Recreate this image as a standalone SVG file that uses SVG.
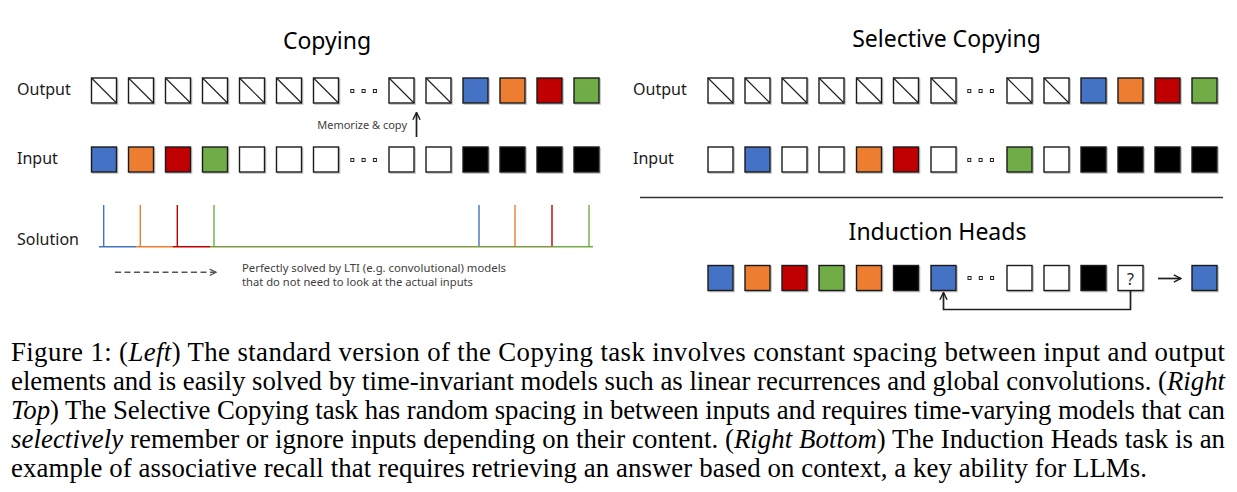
<svg xmlns="http://www.w3.org/2000/svg" xmlns:xlink="http://www.w3.org/1999/xlink" width="1237" height="492" viewBox="0 0 1237 492">
<style>
.sh{fill:none;stroke:#c4c4c4;stroke-width:1.3}
.box{stroke:#1a1a1a;stroke-width:1.4}
.diag{stroke:#1a1a1a;stroke-width:1.1}
.dot{fill:#fff;stroke:#222;stroke-width:1}
.lbl{font-family:"Noto Sans","Open Sans",sans-serif;font-size:16px;fill:#1a1a1a}
.ttl{font-family:"Noto Sans","Open Sans",sans-serif;font-size:23px;fill:#000;text-anchor:middle}
.small{font-family:"Noto Sans","Open Sans",sans-serif;font-size:10.5px;fill:#404040}
.cap{font-family:"Liberation Serif","Times New Roman",serif;font-size:26.8px;fill:#000}
.it{font-style:italic}
.conn{fill:none;stroke:#1f1f1f;stroke-width:1.7}
.sol{fill:none;stroke-width:1.4}
</style>
<defs>
<marker id="ah" viewBox="0 0 10 10" refX="9" refY="5" markerWidth="9" markerHeight="9" markerUnits="userSpaceOnUse" orient="auto"><path d="M1,1 L9,5 L1,9" fill="none" stroke="#1f1f1f" stroke-width="1.6"/></marker>
<marker id="ahg" viewBox="0 0 10 10" refX="9" refY="5" markerWidth="8" markerHeight="8" markerUnits="userSpaceOnUse" orient="auto"><path d="M1,1 L9,5 L1,9" fill="none" stroke="#555" stroke-width="1.6"/></marker>
<g id="s-hatch"><rect x="1.2" y="1.2" width="25" height="25" class="sh"/><rect width="25" height="25" class="box" fill="#fff"/><line x1="0" y1="0" x2="25" y2="25" class="diag"/></g>
<g id="s-w"><rect x="1.2" y="1.2" width="25" height="25" class="sh"/><rect width="25" height="25" class="box" fill="#fff"/></g>
<g id="s-b"><rect x="1.2" y="1.2" width="25" height="25" class="sh"/><rect width="25" height="25" class="box" fill="#4472C4"/></g>
<g id="s-o"><rect x="1.2" y="1.2" width="25" height="25" class="sh"/><rect width="25" height="25" class="box" fill="#ED7D31"/></g>
<g id="s-r"><rect x="1.2" y="1.2" width="25" height="25" class="sh"/><rect width="25" height="25" class="box" fill="#C00000"/></g>
<g id="s-g"><rect x="1.2" y="1.2" width="25" height="25" class="sh"/><rect width="25" height="25" class="box" fill="#70AD47"/></g>
<g id="s-k"><rect x="1.2" y="1.2" width="25" height="25" class="sh"/><rect width="25" height="25" class="box" fill="#000"/></g>
<g id="s-dots"><rect x="0" y="0" width="3" height="3" class="dot"/><rect x="11.3" y="0" width="3" height="3" class="dot"/><rect x="22.6" y="0" width="3" height="3" class="dot"/></g>
</defs>
<rect width="1237" height="492" fill="#fff"/>

<!-- Titles and labels -->
<text class="ttl" x="327" y="49">Copying</text>
<text class="ttl" x="946.5" y="47">Selective Copying</text>
<text class="ttl" x="937.5" y="240">Induction Heads</text>
<text class="lbl" x="17" y="95">Output</text>
<text class="lbl" x="17" y="164">Input</text>
<text class="lbl" x="17" y="245">Solution</text>
<text class="lbl" x="633" y="95">Output</text>
<text class="lbl" x="633" y="164">Input</text>

<!-- Copying: output row -->
<g id="copy-out">
<g id="co1"><use xlink:href="#s-hatch" x="91.5" y="78"/></g>
<g id="co2"><use xlink:href="#s-hatch" x="128.5" y="78"/></g>
<g id="co3"><use xlink:href="#s-hatch" x="165.5" y="78"/></g>
<g id="co4"><use xlink:href="#s-hatch" x="202.5" y="78"/></g>
<g id="co5"><use xlink:href="#s-hatch" x="239.5" y="78"/></g>
<g id="co6"><use xlink:href="#s-hatch" x="276.5" y="78"/></g>
<g id="co7"><use xlink:href="#s-hatch" x="313.5" y="78"/></g>
<g id="co-dots"><use xlink:href="#s-dots" x="350.8" y="89.5"/></g>
<g id="co8"><use xlink:href="#s-hatch" x="389" y="78"/></g>
<g id="co9"><use xlink:href="#s-hatch" x="426" y="78"/></g>
<g id="co10"><use xlink:href="#s-b" x="463" y="78"/></g>
<g id="co11"><use xlink:href="#s-o" x="500" y="78"/></g>
<g id="co12"><use xlink:href="#s-r" x="537" y="78"/></g>
<g id="co13"><use xlink:href="#s-g" x="574" y="78"/></g>
</g>
<!-- Copying: input row -->
<g id="copy-in">
<g id="ci1"><use xlink:href="#s-b" x="91.5" y="147"/></g>
<g id="ci2"><use xlink:href="#s-o" x="128.5" y="147"/></g>
<g id="ci3"><use xlink:href="#s-r" x="165.5" y="147"/></g>
<g id="ci4"><use xlink:href="#s-g" x="202.5" y="147"/></g>
<g id="ci5"><use xlink:href="#s-w" x="239.5" y="147"/></g>
<g id="ci6"><use xlink:href="#s-w" x="276.5" y="147"/></g>
<g id="ci7"><use xlink:href="#s-w" x="313.5" y="147"/></g>
<g id="ci-dots"><use xlink:href="#s-dots" x="350.8" y="158.5"/></g>
<g id="ci8"><use xlink:href="#s-w" x="389" y="147"/></g>
<g id="ci9"><use xlink:href="#s-w" x="426" y="147"/></g>
<g id="ci10"><use xlink:href="#s-k" x="463" y="147"/></g>
<g id="ci11"><use xlink:href="#s-k" x="500" y="147"/></g>
<g id="ci12"><use xlink:href="#s-k" x="537" y="147"/></g>
<g id="ci13"><use xlink:href="#s-k" x="574" y="147"/></g>
</g>

<!-- Selective copying: output row -->
<g id="sel-out">
<g id="so1"><use xlink:href="#s-hatch" x="708" y="78"/></g>
<g id="so2"><use xlink:href="#s-hatch" x="745" y="78"/></g>
<g id="so3"><use xlink:href="#s-hatch" x="782" y="78"/></g>
<g id="so4"><use xlink:href="#s-hatch" x="819" y="78"/></g>
<g id="so5"><use xlink:href="#s-hatch" x="856.5" y="78"/></g>
<g id="so6"><use xlink:href="#s-hatch" x="893.5" y="78"/></g>
<g id="so7"><use xlink:href="#s-hatch" x="931" y="78"/></g>
<g id="so-dots"><use xlink:href="#s-dots" x="967.8" y="89.5"/></g>
<g id="so8"><use xlink:href="#s-hatch" x="1007" y="78"/></g>
<g id="so9"><use xlink:href="#s-hatch" x="1044" y="78"/></g>
<g id="so10"><use xlink:href="#s-b" x="1081" y="78"/></g>
<g id="so11"><use xlink:href="#s-o" x="1118" y="78"/></g>
<g id="so12"><use xlink:href="#s-r" x="1155" y="78"/></g>
<g id="so13"><use xlink:href="#s-g" x="1192" y="78"/></g>
</g>
<!-- Selective copying: input row -->
<g id="sel-in">
<g id="si1"><use xlink:href="#s-w" x="708" y="147"/></g>
<g id="si2"><use xlink:href="#s-b" x="745" y="147"/></g>
<g id="si3"><use xlink:href="#s-w" x="782" y="147"/></g>
<g id="si4"><use xlink:href="#s-w" x="819" y="147"/></g>
<g id="si5"><use xlink:href="#s-o" x="856.5" y="147"/></g>
<g id="si6"><use xlink:href="#s-r" x="893.5" y="147"/></g>
<g id="si7"><use xlink:href="#s-w" x="931" y="147"/></g>
<g id="si-dots"><use xlink:href="#s-dots" x="967.8" y="158.5"/></g>
<g id="si8"><use xlink:href="#s-g" x="1007" y="147"/></g>
<g id="si9"><use xlink:href="#s-w" x="1044" y="147"/></g>
<g id="si10"><use xlink:href="#s-k" x="1081" y="147"/></g>
<g id="si11"><use xlink:href="#s-k" x="1118" y="147"/></g>
<g id="si12"><use xlink:href="#s-k" x="1155" y="147"/></g>
<g id="si13"><use xlink:href="#s-k" x="1192" y="147"/></g>
</g>

<!-- Separator -->
<line x1="640" y1="197.5" x2="1223" y2="197.5" stroke="#333" stroke-width="1.5"/>

<!-- Induction heads row -->
<g id="ind">
<g id="ih1"><use xlink:href="#s-b" x="708" y="265.5"/></g>
<g id="ih2"><use xlink:href="#s-o" x="745" y="265.5"/></g>
<g id="ih3"><use xlink:href="#s-r" x="782" y="265.5"/></g>
<g id="ih4"><use xlink:href="#s-g" x="819" y="265.5"/></g>
<g id="ih5"><use xlink:href="#s-o" x="856.5" y="265.5"/></g>
<g id="ih6"><use xlink:href="#s-k" x="893.5" y="265.5"/></g>
<g id="ih7"><use xlink:href="#s-b" x="931" y="265.5"/></g>
<g id="ih-dots"><use xlink:href="#s-dots" x="968" y="276.5"/></g>
<g id="ih8"><use xlink:href="#s-w" x="1007" y="265.5"/></g>
<g id="ih9"><use xlink:href="#s-w" x="1044" y="265.5"/></g>
<g id="ih10"><use xlink:href="#s-k" x="1081" y="265.5"/></g>
<g id="ih-q"><use xlink:href="#s-w" x="1118" y="265.5"/><text x="1130.5" y="284.5" text-anchor="middle" font-family="Noto Sans, sans-serif" font-size="16" fill="#222">?</text></g>
<g id="ih-ans"><use xlink:href="#s-b" x="1192" y="265.5"/></g>
</g>

<!-- Solution plot -->
<g id="solution">
<line class="sol" stroke="#4472C4" x1="103.7" y1="205" x2="103.7" y2="246.5"/>
<line class="sol" stroke="#ED7D31" x1="140.3" y1="205" x2="140.3" y2="246.5"/>
<line class="sol" stroke="#C00000" x1="177.3" y1="205" x2="177.3" y2="246.5"/>
<line class="sol" stroke="#70AD47" x1="214" y1="205" x2="214" y2="246.5"/>
<line class="sol" stroke="#4472C4" x1="479" y1="205" x2="479" y2="246.5"/>
<line class="sol" stroke="#ED7D31" x1="515" y1="205" x2="515" y2="246.5"/>
<line class="sol" stroke="#C00000" x1="552" y1="205" x2="552" y2="246.5"/>
<line class="sol" stroke="#70AD47" x1="589" y1="205" x2="589" y2="246.5"/>
<line class="sol" stroke="#4472C4" stroke-width="1.7" x1="99" y1="246.7" x2="136" y2="246.7"/>
<line class="sol" stroke="#ED7D31" stroke-width="1.7" x1="136" y1="246.7" x2="173" y2="246.7"/>
<line class="sol" stroke="#C00000" stroke-width="1.7" x1="173" y1="246.7" x2="210" y2="246.7"/>
<line class="sol" stroke="#7f9a43" stroke-width="1.7" x1="210" y1="246.7" x2="556" y2="246.7"/>
<line class="sol" stroke="#70AD47" stroke-width="1.7" x1="556" y1="246.7" x2="593" y2="246.7"/>
</g>
<text class="small" x="242" y="271.5" textLength="264" lengthAdjust="spacingAndGlyphs">Perfectly solved by LTI (e.g. convolutional) models</text>
<text class="small" x="242" y="285.5" textLength="231" lengthAdjust="spacingAndGlyphs">that do not need to look at the actual inputs</text>
<text x="407" y="128.5" text-anchor="end" font-family="Noto Sans, sans-serif" font-size="11" fill="#404040">Memorize &amp; copy</text>

<!-- Connectors -->
<g id="connectors">
<line class="conn" x1="416.5" y1="137" x2="416.5" y2="112.5" marker-end="url(#ah)"/>
<line x1="115" y1="272.3" x2="216" y2="272.3" fill="none" stroke="#555" stroke-width="1.5" stroke-dasharray="6 3.5" marker-end="url(#ahg)"/>
<path class="conn" d="M1130.5,291 V309.5 H943.5 V292.5" marker-end="url(#ah)"/>
<line class="conn" x1="1158" y1="278.5" x2="1181" y2="278.5" marker-end="url(#ah)"/>
</g>

<!-- Caption -->
<g id="caption" class="cap">
<text x="11" y="361" textLength="1214" lengthAdjust="spacing">Figure 1: (<tspan class="it">Left</tspan>) The standard version of the Copying task involves constant spacing between input and output</text>
<text x="11" y="390" textLength="1214" lengthAdjust="spacing">elements and is easily solved by time-invariant models such as linear recurrences and global convolutions. (<tspan class="it">Right</tspan></text>
<text x="11" y="419" textLength="1214" lengthAdjust="spacing"><tspan class="it">Top</tspan>) The Selective Copying task has random spacing in between inputs and requires time-varying models that can</text>
<text x="11" y="448" textLength="1214" lengthAdjust="spacing"><tspan class="it">selectively</tspan> remember or ignore inputs depending on their content. (<tspan class="it">Right Bottom</tspan>) The Induction Heads task is an</text>
<text x="11" y="477" textLength="1136" lengthAdjust="spacing">example of associative recall that requires retrieving an answer based on context, a key ability for LLMs.</text>
</g>
</svg>
